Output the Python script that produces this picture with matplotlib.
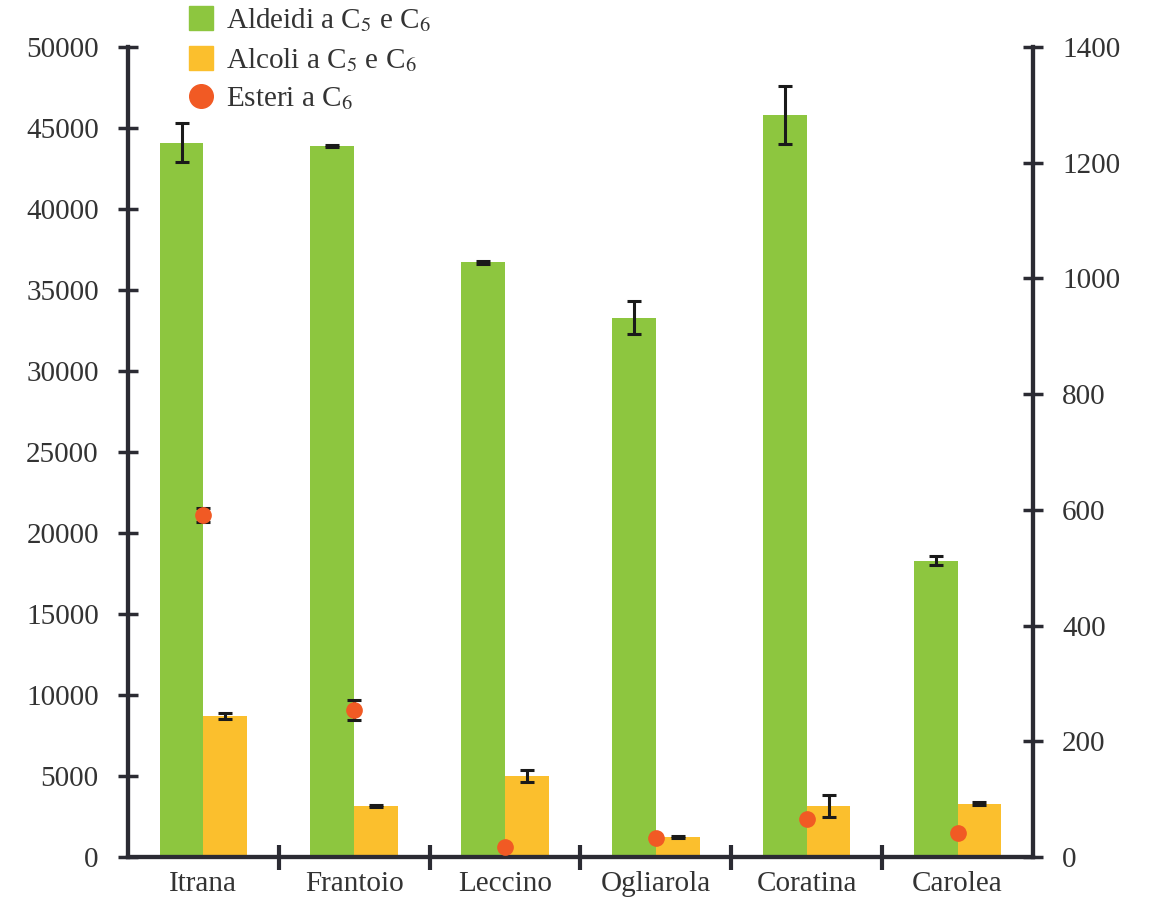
import numpy as np
import matplotlib.pyplot as plt
from matplotlib.lines import Line2D

# cultivar names and volatile sums (left axis: C5/C6 aldehydes & alcohols, right axis: C6 esters)
cultivars = ['Itrana', 'Frantoio', 'Leccino', 'Ogliarola', 'Coratina', 'Carolea']
aldeidi = [44100, 43900, 36700, 33300, 45800, 18300]
aldeidi_err = [1200, 80, 100, 1000, 1800, 300]
alcoli = [8700, 3150, 5000, 1230, 3150, 3300]
alcoli_err = [200, 80, 350, 80, 700, 80]
esteri = [591, 254, 17, 33, 65, 41]
esteri_err = [12, 17, 0, 0, 0, 0]

GREEN = '#8dc63f'
YELLOW = '#fbbf2d'
ORANGE = '#f15a24'
AXIS = '#2b2b33'
TEXT = '#333333'

plt.rcParams['font.family'] = ['Liberation Serif', 'DejaVu Serif']
plt.rcParams['mathtext.fontset'] = 'stix'

fig = plt.figure(figsize=(11.56, 8.97), dpi=100)
ax = fig.add_axes([0.1107, 0.0446, 0.7829, 0.903])
ax2 = ax.twinx()

x = np.arange(len(cultivars))
w = 0.29

err_kw = dict(ecolor='#1a1a1a', elinewidth=2.2, capsize=5, capthick=2.2)
ax.bar(x - w / 2, aldeidi, w, color=GREEN, yerr=aldeidi_err, error_kw=err_kw, zorder=2)
ax.bar(x + w / 2, alcoli, w, color=YELLOW, yerr=alcoli_err, error_kw=err_kw, zorder=2)

ax2.errorbar(x, esteri, yerr=esteri_err, fmt='o', color=ORANGE, markersize=11,
             ecolor='#1a1a1a', elinewidth=2.2, capsize=5, capthick=2.2, zorder=3)

ax.set_xlim(-0.5, 5.5)
ax.set_ylim(0, 50000)
ax2.set_ylim(0, 1400)
ax.set_yticks(np.arange(0, 50001, 5000))
ax2.set_yticks(np.arange(0, 1401, 200))

ax.set_xticks(x)
ax.set_xticklabels(cultivars)
ax.set_xticks(x[:-1] + 0.5, minor=True)

for a in (ax, ax2):
    a.spines['top'].set_visible(False)
    for side in ('left', 'right', 'bottom'):
        a.spines[side].set_color(AXIS)
        a.spines[side].set_linewidth(3)

ax.tick_params(axis='x', which='major', length=0, pad=10, labelsize=21, colors=TEXT)
ax.tick_params(axis='x', which='minor', direction='inout', length=18, width=3, color=AXIS)
ax.tick_params(axis='y', direction='inout', length=14, width=2.5, color=AXIS,
               labelsize=21, labelcolor=TEXT, pad=14)
ax2.tick_params(axis='y', direction='inout', length=14, width=2.5, color=AXIS,
                labelsize=21, labelcolor=TEXT, pad=14)

handles = [
    Line2D([], [], marker='s', linestyle='none', markersize=17, color=GREEN),
    Line2D([], [], marker='s', linestyle='none', markersize=17, color=YELLOW),
    Line2D([], [], marker='o', linestyle='none', markersize=17, color=ORANGE),
]
labels = [r'Aldeidi a C$_5$ e C$_6$', r'Alcoli a C$_5$ e C$_6$', r'Esteri a C$_6$']
fig.legend(handles, labels, loc='upper left', bbox_to_anchor=(0.132, 1.022),
           frameon=False, fontsize=21, handletextpad=0.1, labelspacing=0.4,
           handlelength=1.5, labelcolor=TEXT)

fig.savefig('out.png', dpi=100)
